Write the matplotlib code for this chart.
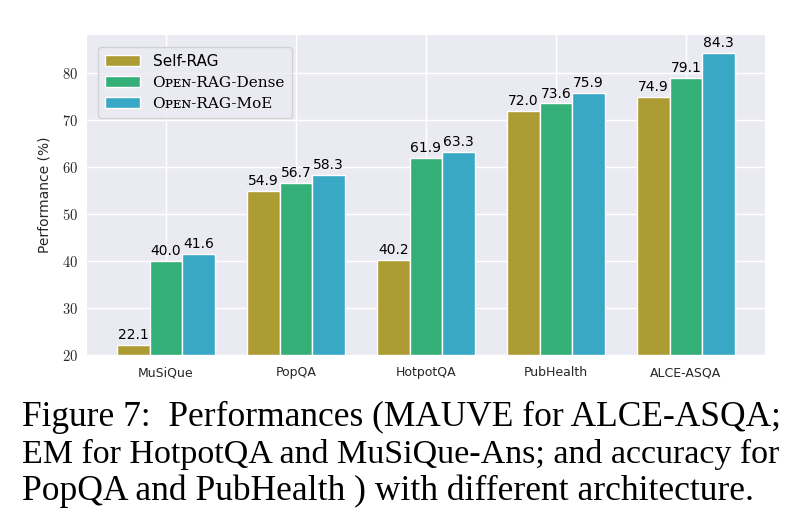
import matplotlib
matplotlib.use('Agg')
import matplotlib.pyplot as plt
import numpy as np

# data
datasets = ['MuSiQue', 'PopQA', 'HotpotQA', 'PubHealth', 'ALCE-ASQA']
self_rag = [22.1, 54.9, 40.2, 72.0, 74.9]
open_rag_dense = [40.0, 56.7, 61.9, 73.6, 79.1]
open_rag_moe = [41.6, 58.3, 63.3, 75.9, 84.3]
series_names = ['Self-RAG', 'O\u1d18\u1d07\u0274-RAG-Dense', 'O\u1d18\u1d07\u0274-RAG-MoE']
yticks = [20, 30, 40, 50, 60, 70, 80]

colors = ['#ad9c34', '#34af78', '#38a8c5']

plt.rcParams['mathtext.fontset'] = 'cm'

fig = plt.figure(figsize=(8.02, 5.24), dpi=100)
ax = fig.add_axes([0.108, 0.3225, 0.846, 0.611])
ax.set_facecolor('#eaeaf2')
for s in ax.spines.values():
    s.set_visible(False)
ax.grid(True, color='white', linewidth=1.0)
ax.set_axisbelow(True)

x = np.arange(len(datasets))
w = 0.25
all_series = [self_rag, open_rag_dense, open_rag_moe]
for i, vals in enumerate(all_series):
    pos = x + (i - 1) * w
    bars = ax.bar(pos, np.array(vals) - 20, w, bottom=20, color=colors[i],
                  edgecolor='white', linewidth=1.0, label=series_names[i])
    for p, v in zip(pos, vals):
        ax.text(p, v + 0.6, '%.1f' % v, ha='center', va='bottom',
                fontsize=10, color='black')

ax.set_xlim(-0.61, 4.61)
ax.set_ylim(20, 88.2)
ax.set_xticks(x)
ax.set_xticklabels(datasets, fontsize=9, color='#262626')
ax.set_yticks(yticks)
ax.set_yticklabels(['$%d$' % t for t in yticks], fontsize=10.5, color='#262626')
ax.tick_params(length=0, pad=6)
ax.tick_params(axis='x', pad=8)
ax.set_ylabel('Performance (%)', fontsize=10, color='#262626', labelpad=8)

leg = ax.legend(loc='upper left', fontsize=11, frameon=True, facecolor='#eaeaf2',
                edgecolor='#cccccc', framealpha=0.8, handlelength=2.3,
                handleheight=0.75, borderpad=0.45, labelspacing=0.45,
                bbox_to_anchor=(0.006, 0.985))
for t in leg.get_texts()[1:]:
    t.set_family(['DejaVu Serif', 'DejaVu Sans'])

# caption: each line sized to the width it has in the paper
caption = ['Figure 7:  Performances (MAUVE for ALCE-ASQA;',
           'EM for HotpotQA and MuSiQue-Ans; and accuracy for',
           'PopQA and PubHealth ) with different architecture.']
line_widths = [760, 760, 735]
renderer = fig.canvas.get_renderer()
for k, line in enumerate(caption):
    t = fig.text(22 / 802, 1 - (426 + 37 * k) / 524, line, fontsize=25,
                 family='Liberation Serif', ha='left', va='baseline', color='black')
    wpx = t.get_window_extent(renderer).width
    t.set_fontsize(25 * line_widths[k] / wpx)

fig.savefig('out.png', dpi=100)
